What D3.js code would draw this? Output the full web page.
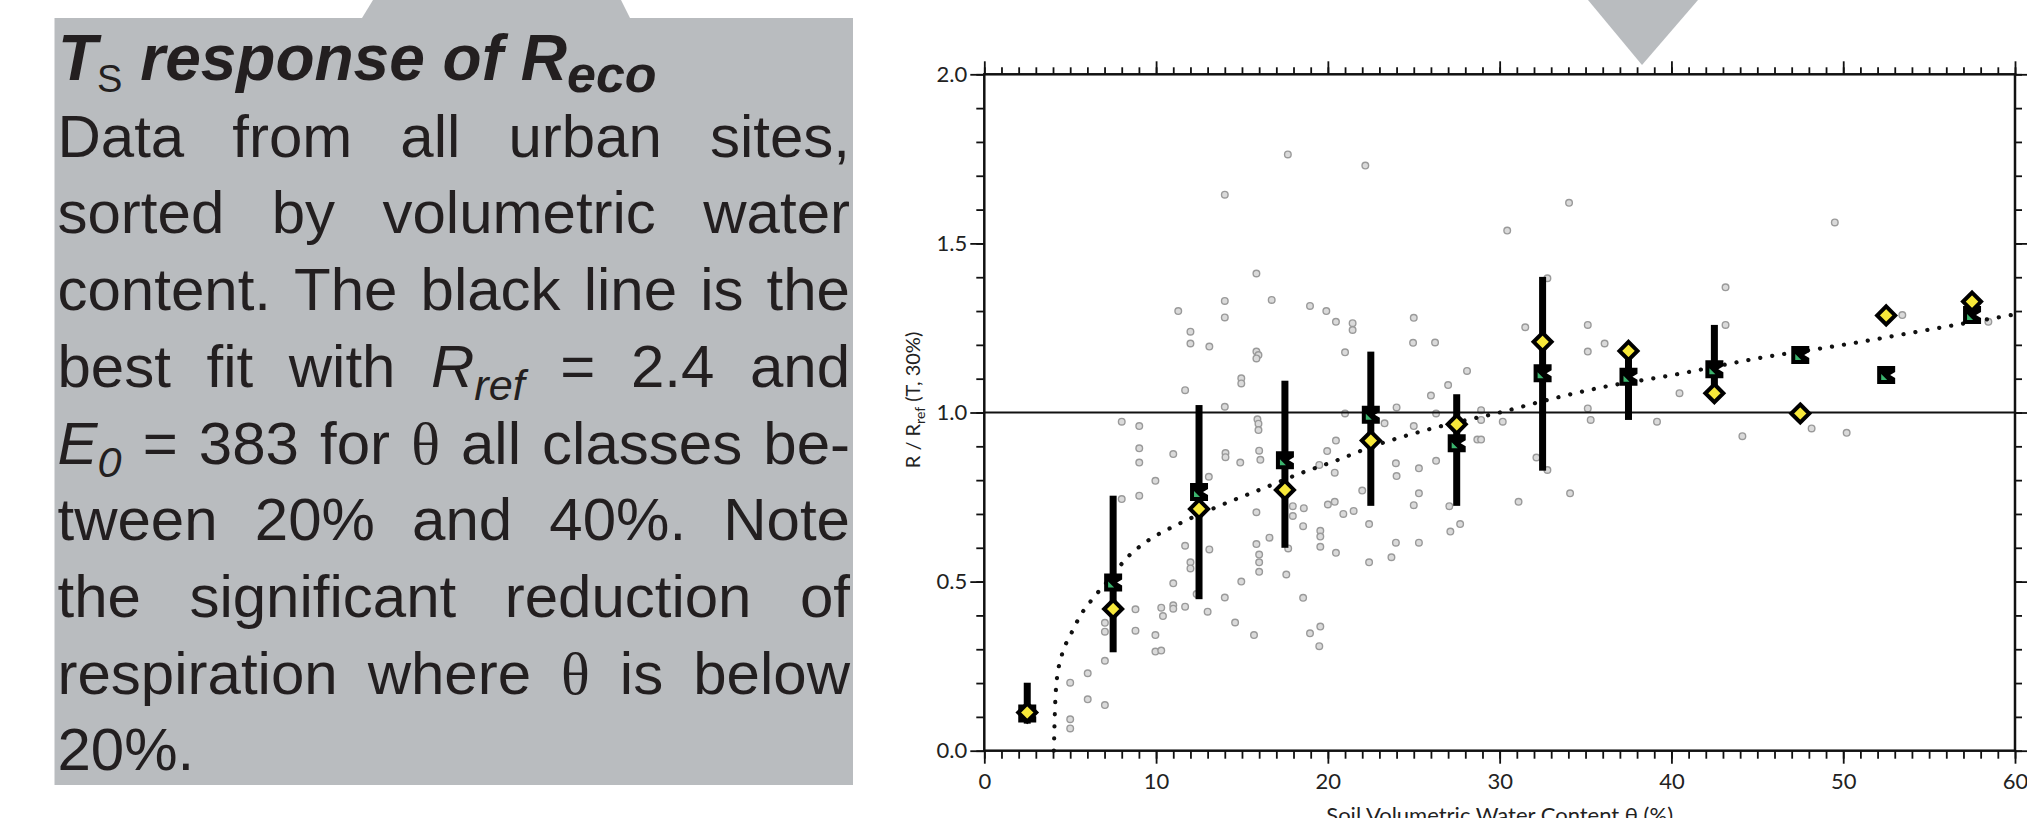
<!DOCTYPE html>
<html><head><meta charset="utf-8">
<script src="https://cdn.jsdelivr.net/npm/d3@7"></script>
<style>html,body{margin:0;padding:0;background:#fff;overflow:hidden}</style>
</head><body>
<svg id="c" width="2027" height="818"></svg>
<script>
// ---------- DATA ----------
const binCenters   = [2.5, 7.5, 12.5, 17.5, 22.5, 27.5, 32.5, 37.5, 42.5, 47.5, 52.5, 57.5];
const diamondVals  = [0.113, 0.419, 0.715, 0.771, 0.917, 0.965, 1.209, 1.182, 1.057, 0.997, 1.287, 1.328];
const squareVals   = [0.11, 0.497, 0.765, 0.859, 0.993, 0.909, 1.116, 1.106, 1.128, 1.170, 1.111, 1.288];
const errLow       = [0.08, 0.291, 0.448, 0.600, 0.724, 0.724, 0.828, 0.978, 1.040, null, null, null];
const errHigh      = [0.201, 0.754, 1.022, 1.094, 1.180, 1.054, 1.401, 1.180, 1.259, null, null, null];

const scatterX = [17.67,22.18,14.0,15.84,14.0,16.73,11.29,14.0,18.96,19.91,20.47,21.44,21.44,25.0,12.0,12.0,13.1,15.84,15.96,15.84,21.0,24.96,26.24,28.1,14.96,14.96,11.69,27.0,26.0,14.0,24.0,21.0,
  8.0,9.02,9.02,9.02,9.02,8.0,9.96,11.0,15.9,15.96,15.96,14.04,14.04,14.9,16.0,16.07,13.07,15.84,16.6,15.84,16.0,16.0,16.0,14.96,17.58,17.69,17.96,17.96,18.6,18.56,19.56,19.56,19.56,20.47,19.96,20.47,19.5,20.4,20.0,20.4,20.9,21.5,22.0,22.4,22.4,23.96,24.0,25.3,25.3,25.0,23.96,25.3,23.7,26.3,27.07,27.13,27.7,23.3,25.0,26.3,28.7,
  11.69,13.1,12.0,12.0,11.0,14.0,12.36,10.3,10.4,11.0,11.0,11.69,13.0,8.8,8.8,7.02,7.02,9.96,9.96,10.3,14.6,15.7,18.56,18.96,19.56,19.5,7.02,6.02,5.0,6.02,7.02,5.0,5.0,
  28.92,28.92,28.92,30.18,32.14,32.78,31.1,34.1,35.13,35.3,39.16,44.13,48.16,50.2,
  34.04,30.44,49.51,32.78,43.15,31.49,35.13,43.15,36.11,35.13,40.47,53.44,58.45];
const scatterY = [1.763,1.730,1.644,1.411,1.330,1.333,1.300,1.281,1.315,1.300,1.268,1.264,1.244,1.280,1.239,1.204,1.195,1.180,1.170,1.160,1.178,1.206,1.207,1.123,1.101,1.086,1.066,1.081,1.050,1.017,1.015,0.997,
  0.973,0.960,0.894,0.852,0.754,0.744,0.798,0.877,0.980,0.967,0.948,0.880,0.868,0.852,0.887,0.860,0.810,0.705,0.630,0.611,0.580,0.557,0.529,0.500,0.521,0.598,0.723,0.694,0.717,0.664,0.650,0.633,0.603,0.585,0.886,0.917,0.845,0.822,0.728,0.736,0.700,0.709,0.769,0.670,0.557,0.850,0.812,0.835,0.761,0.726,0.615,0.615,0.572,0.857,0.723,0.648,0.670,0.968,0.960,0.997,0.920,
  0.606,0.595,0.557,0.539,0.495,0.453,0.463,0.423,0.398,0.430,0.420,0.426,0.411,0.418,0.355,0.378,0.352,0.342,0.293,0.296,0.379,0.342,0.452,0.347,0.367,0.309,0.266,0.229,0.201,0.152,0.135,0.093,0.066,
  1.007,0.978,0.920,0.973,0.867,0.830,0.736,0.761,1.012,0.978,0.973,0.930,0.953,0.940,
  1.620,1.538,1.562,1.397,1.370,1.252,1.259,1.259,1.204,1.180,1.057,1.288,1.268];

const fitX = [4.05, 4.1, 4.2, 4.5, 5.0, 5.6, 6.4, 7.5, 8.2, 9.5, 11.3, 13.5, 16.2, 18.4, 20.6, 22.6, 24.8, 27.0, 30.0, 33.0, 36.0, 40.0, 45.0, 50.0, 55.0, 60.0];
const fitY = [0.0, 0.10, 0.20, 0.28, 0.34, 0.40, 0.455, 0.52, 0.565, 0.62, 0.67, 0.72, 0.775, 0.82, 0.86, 0.90, 0.935, 0.965, 1.0, 1.04, 1.075, 1.11, 1.16, 1.20, 1.245, 1.29];

const xTicks = [0, 10, 20, 30, 40, 50, 60];
const xTickLabels = ["0", "10", "20", "30", "40", "50", "60"];
const yTicks = [0, 0.5, 1.0, 1.5, 2.0];
const yTickLabels = ["0.0", "0.5", "1.0", "1.5", "2.0"];
const refLine = 1.0;

const titleParts = [["T","bi"],["S","sub"],[" response of R","bi"],["eco","bisub"]];
const panelLines = [
  "Data from all urban sites,",
  "sorted by volumetric water",
  "content. The black line is the",
  "best fit with {R|ref} = 2.4 and",
  "{E|0} = 383 for θ all classes be-",
  "tween 20% and 40%. Note",
  "the significant reduction of",
  "respiration where θ is below",
  "20%."
];
const xTitle = "Soil Volumetric Water Content θ (%)";

// ---------- DRAW ----------
const svg = d3.select("#c");
const gray = "#b9bcbf";
const ink = "#231f20";

// Text panel
svg.append("polygon").attr("points","362,18 373,0 621,0 630,18").attr("fill",gray);
svg.append("rect").attr("x",54.5).attr("y",18).attr("width",798.5).attr("height",767).attr("fill",gray);

const tf = "'Liberation Sans', Arial, sans-serif";
const title = svg.append("text").attr("x",58).attr("y",80).attr("font-family",tf).attr("font-size",64).attr("fill",ink);
titleParts.forEach(([t,k], i) => {
  const ts = title.append("tspan").text(t);
  if (k === "bi") ts.attr("font-weight","bold").attr("font-style","italic").attr("dy", i > 0 ? -12 : null);
  if (k === "sub") ts.attr("font-size",38).attr("dy",12).attr("font-style","normal");
  if (k === "bisub") ts.attr("font-weight","bold").attr("font-style","italic").attr("font-size",52).attr("dy",12);
});

const bodySize = 60, left = 57.5, right = 850, lineH = 76.7, firstBase = 156.7, sx = 1;
panelLines.forEach((line, li) => {
  const yb = firstBase + li * lineH;
  const words = line.split(" ");
  const nodes = words.map(w => {
    const t = svg.append("text").attr("font-family", tf).attr("font-size", bodySize).attr("fill", ink);
    const m = w.match(/^\{(.+)\|(.+)\}$/);
    if (m) {
      t.append("tspan").text(m[1]).attr("font-style","italic");
      t.append("tspan").text(m[2]).attr("font-style","italic").attr("font-size", bodySize*0.72).attr("dy", 13);
    } else if (w === "θ") {
      t.append("tspan").text(w).attr("font-family","'Liberation Serif', serif");
    } else {
      t.append("tspan").text(w);
    }
    return t;
  });
  const widths = nodes.map(n => n.node().getComputedTextLength() * sx);
  const total = d3.sum(widths);
  const last = li === panelLines.length - 1;
  const gap = (!last && nodes.length > 1) ? (right - left - total) / (nodes.length - 1) : bodySize * 0.278;
  let cx = left;
  nodes.forEach((n, i) => { n.attr("transform", `translate(${cx},${yb}) scale(${sx},1)`); cx += widths[i] + gap; });
});

// Chart
const x = d3.scaleLinear().domain([0, 60]).range([984.3, 2015]);
const y = d3.scaleLinear().domain([0, 2]).range([750.7, 74.3]);
const [x0, x1] = x.range(), [y0, y1] = y.range();
const lf = "Lato, 'Open Sans', sans-serif";

function axis(gen, tr, vals, size, fmt, pad) {
  const g = svg.append("g").attr("transform", tr)
    .call(gen.tickValues(vals).tickSize(size).tickSizeOuter(0).tickPadding(pad || 3).tickFormat(fmt || (() => "")));
  g.select(".domain").remove();
  g.selectAll(".tick line").attr("stroke", "#111").attr("stroke-width", 1.8);
  g.selectAll("text").attr("font-family", lf).attr("font-size", 22).attr("fill", "#222");
  return g;
}
const xMinor = d3.range(0, 61, 1), yMinor = d3.range(0, 21, 1).map(d => d / 10);
axis(d3.axisBottom(x), `translate(0,${y0})`, xMinor, 8);
axis(d3.axisBottom(x), `translate(0,${y0})`, xTicks, 13, (d, i) => xTickLabels[i], 10);
axis(d3.axisTop(x), `translate(0,${y1})`, xMinor, 7);
axis(d3.axisTop(x), `translate(0,${y1})`, xTicks, 13);
axis(d3.axisLeft(y), `translate(${x0},0)`, yMinor, 8);
axis(d3.axisLeft(y), `translate(${x0},0)`, yTicks, 14, (d, i) => yTickLabels[i], 3);
axis(d3.axisRight(y), `translate(${x1},0)`, yMinor, 7);
axis(d3.axisRight(y), `translate(${x1},0)`, yTicks, 13);

// scatter
svg.append("g").selectAll("circle").data(scatterX.map((d, i) => [d, scatterY[i]])).join("circle")
  .attr("cx", d => x(d[0])).attr("cy", d => y(d[1])).attr("r", 3.3)
  .attr("fill", "#dadada").attr("stroke", "#9a9a9a").attr("stroke-width", 1.4);

// reference line
svg.append("line").attr("x1", x0).attr("x2", x1).attr("y1", y(refLine)).attr("y2", y(refLine))
  .attr("stroke", "#111").attr("stroke-width", 2);

// fit curve (dotted)
svg.append("path").datum(fitX.map((d, i) => [d, fitY[i]]))
  .attr("d", d3.line().x(d => x(d[0])).y(d => y(d[1])).curve(d3.curveMonotoneX))
  .attr("fill", "none").attr("stroke", "#111").attr("stroke-width", 4.2)
  .attr("stroke-linecap", "round").attr("stroke-dasharray", "0.1 12");

// error bars
const bins = binCenters.map((c, i) => ({c, d: diamondVals[i], s: squareVals[i], lo: errLow[i], hi: errHigh[i]}));
svg.append("g").selectAll("rect").data(bins.filter(b => b.lo != null)).join("rect")
  .attr("x", b => x(b.c) - 3.5).attr("width", 7)
  .attr("y", b => y(b.hi)).attr("height", b => y(b.lo) - y(b.hi)).attr("fill", "#000");

// squares (green)
const sq = svg.append("g").selectAll("g").data(bins).join("g")
  .attr("transform", b => `translate(${x(b.c)},${y(b.s)})`);
sq.append("path").attr("d", "M-9,-9H9V-3L4,0L9,3V9H-9Z").attr("fill", "#000");
sq.append("path").attr("d", "M-5,5L-5,-1L1,5Z").attr("fill", "#3bb56e");

// diamonds (yellow)
svg.append("g").selectAll("path").data(bins).join("path")
  .attr("transform", b => `translate(${x(b.c)},${y(b.d)})`)
  .attr("d", "M0,-9L9,0L0,9L-9,0Z")
  .attr("fill", "#f7e83a").attr("stroke", "#000").attr("stroke-width", 4).attr("stroke-linejoin", "miter");

// frame
svg.append("rect").attr("x", x0).attr("y", y1).attr("width", x1 - x0).attr("height", y0 - y1)
  .attr("fill", "none").attr("stroke", "#111").attr("stroke-width", 2.5);

// axis titles
svg.append("text").attr("x", (x0 + x1) / 2).attr("y", 823).attr("text-anchor", "middle")
  .attr("font-family", lf).attr("font-size", 22).attr("fill", "#222").text(xTitle);
const yl = svg.append("text").attr("transform", "translate(920,400) rotate(-90)").attr("text-anchor", "middle")
  .attr("font-family", lf).attr("font-size", 20).attr("fill", "#222");
yl.append("tspan").text("R / R");
yl.append("tspan").text("ref").attr("font-size", 14).attr("dy", 5);
yl.append("tspan").text(" (T, 30%)").attr("dy", -5);

// grey pointer triangle
svg.append("polygon").attr("points", "1588,0 1698,0 1642,65").attr("fill", gray);
</script>
</body></html>
